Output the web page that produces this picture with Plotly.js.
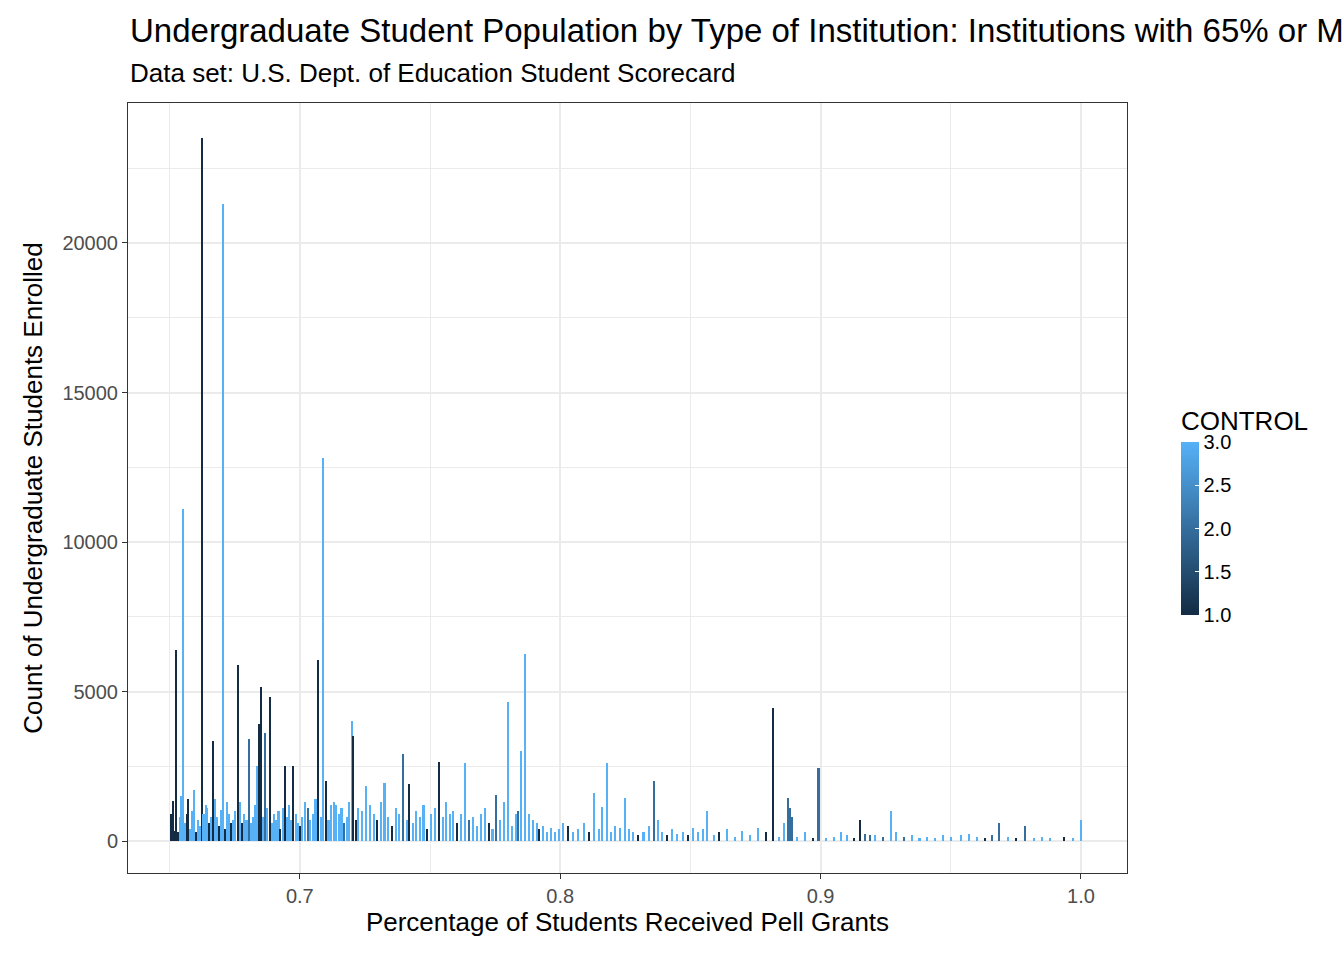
<!DOCTYPE html>
<html>
<head>
<meta charset="utf-8">
<script src="https://cdn.plot.ly/plotly-3.0.1.min.js"></script>
<style>body{margin:0;background:#fff}</style>
</head>
<body>
<div id="chart" style="width:1344px;height:960px"></div>
<script>
// Pell grant share, undergraduate enrolment, institution control (1 public, 2 private nonprofit, 3 private for-profit)
const pell = [
  0.6505,0.6512,0.6518,0.6524,0.6531,0.6538,0.6545,0.6551,0.6558,0.6565,0.6571,0.6578,0.6586,0.6593,0.6600,
  0.6608,0.6615,0.6624,0.6630,0.6638,0.6645,0.6652,0.6660,0.6668,0.6673,0.6680,0.6688,0.6697,0.6704,0.6712,
  0.6720,0.6728,0.6736,0.6745,0.6752,0.6762,0.6770,0.6778,0.6786,0.6795,0.6804,0.6812,0.6820,0.6828,0.6835,
  0.6843,0.6850,0.6858,0.6866,0.6874,0.6885,0.6893,0.6902,0.6910,0.6918,0.6925,0.6934,0.6942,0.6950,0.6958,
  0.6966,0.6975,0.6984,0.6992,0.7000,0.7010,0.7020,0.7030,0.7040,0.7050,0.7060,0.7069,0.7080,0.7088,0.7100,
  0.7110,0.7120,0.7130,0.7140,0.7150,0.7160,0.7170,0.7180,0.7190,0.7200,0.7205,0.7215,0.7225,0.7240,0.7255,
  0.7270,0.7285,0.7295,0.7310,0.7325,0.7340,0.7355,0.7370,0.7380,0.7395,0.7410,0.7420,0.7435,0.7445,0.7460,
  0.7475,0.7490,0.7505,0.7520,0.7535,0.7550,0.7560,0.7575,0.7590,0.7605,0.7620,0.7635,0.7650,0.7665,0.7680,
  0.7695,0.7710,0.7725,0.7740,0.7755,0.7770,0.7785,0.7800,0.7815,0.7830,0.7838,0.7850,0.7865,0.7880,0.7895,
  0.7912,0.7920,0.7935,0.7950,0.7965,0.7980,0.7995,0.8010,0.8030,0.8050,0.8070,0.8090,0.8110,0.8130,0.8150,
  0.8160,0.8180,0.8195,0.8210,0.8230,0.8250,0.8265,0.8280,0.8300,0.8320,0.8340,0.8360,0.8375,0.8390,0.8410,
  0.8430,0.8450,0.8470,0.8490,0.8510,0.8530,0.8550,0.8565,0.8590,0.8610,0.8640,0.8670,0.8700,0.8730,0.8760,
  0.8790,0.8816,0.8840,0.8860,0.8874,0.8882,0.8890,0.8910,0.8940,0.8970,0.8992,0.9020,0.9050,0.9080,0.9100,
  0.9130,0.9150,0.9170,0.9190,0.9210,0.9240,0.9270,0.9290,0.9320,0.9350,0.9380,0.9410,0.9440,0.9470,0.9500,
  0.9540,0.9570,0.9600,0.9630,0.9660,0.9685,0.9720,0.9750,0.9785,0.9820,0.9850,0.9880,0.9935,0.9970,1.0000
];
const ugds = [
  900,1350,350,6400,300,800,1500,11100,600,900,1400,400,1000,1700,300,
  700,500,23500,900,1200,1100,600,800,3350,1400,800,500,1050,21300,400,
  1300,900,600,700,1000,5900,1300,600,900,700,3400,600,800,1200,2500,
  3900,5150,800,3600,1100,4800,600,900,700,1000,400,1100,2500,800,1200,
  700,2500,900,600,500,800,1300,1100,700,900,1400,6050,800,12800,2000,
  700,1200,1300,1200,900,1100,600,800,1300,4000,3500,700,1100,1000,1850,
  1200,900,700,1300,1950,800,500,1100,900,2900,700,1900,600,1000,800,
  1200,400,900,1100,2650,800,1300,900,1000,600,900,2600,700,800,500,
  900,1100,600,400,1550,700,1300,4650,500,900,1000,3000,6250,900,700,
  600,400,500,300,450,300,400,600,500,300,400,600,300,1600,400,
  1150,2600,300,500,450,1450,400,300,200,300,500,2000,700,300,200,
  400,250,300,200,450,300,400,1000,200,300,400,150,350,200,450,
  300,4450,150,600,1450,1100,800,150,300,100,2450,100,150,300,200,
  100,700,250,200,200,150,1000,300,150,200,100,150,100,200,150,
  200,250,150,100,200,600,150,100,500,100,150,100,150,100,700
];
const control = [
  1,1,1,1,1,3,3,3,3,1,1,3,3,3,1,
  3,3,1,3,3,3,1,3,1,3,3,1,3,3,1,
  3,3,1,3,3,1,3,1,3,3,2,3,3,3,3,
  1,1,3,2,3,1,3,3,3,3,1,3,1,3,3,
  3,1,3,3,1,3,3,2,3,3,3,1,3,3,1,
  3,3,3,3,3,3,2,3,3,3,1,1,3,3,3,
  3,3,1,3,3,3,1,3,3,2,3,1,3,3,3,
  3,1,3,3,1,3,3,3,3,1,3,3,2,3,3,
  3,3,1,3,2,3,3,3,3,3,2,3,3,3,3,
  3,1,3,3,3,3,3,3,1,3,3,3,1,3,3,
  3,3,3,3,3,3,3,3,1,3,3,2,3,3,1,
  3,3,3,1,3,3,3,3,3,1,3,3,3,3,3,
  1,1,3,3,2,2,2,3,3,1,2,3,3,3,3,
  1,1,2,2,3,2,3,3,2,3,3,3,3,3,3,
  3,3,3,1,2,2,3,1,2,3,3,3,1,3,3
];
const xTicks = [0.7, 0.8, 0.9, 1.0];
const xTickText = ['0.7', '0.8', '0.9', '1.0'];
const yTicks = [0, 5000, 10000, 15000, 20000];
const yTickText = ['0', '5000', '10000', '15000', '20000'];
const cbTicks = [1.0, 1.5, 2.0, 2.5, 3.0];

const trace = {
  type: 'bar',
  x: pell,
  y: ugds,
  width: 0.0008,
  marker: {
    color: control,
    cmin: 1, cmax: 3,
    colorscale: [[0, '#132B43'], [1, '#56B1F7']],
    line: {width: 0},
    showscale: true,
    colorbar: {
      title: {text: 'CONTROL', font: {size: 26, color: '#000'}, side: 'top'},
      x: 1.044, xanchor: 'left',
      y: 0.47, yanchor: 'middle',
      len: 228, lenmode: 'pixels',
      thickness: 18,
      outlinewidth: 0,
      tickvals: cbTicks,
      tickformat: '.1f',
      ticks: 'inside', ticklen: 4, tickcolor: '#fff',
      tickfont: {size: 20, color: '#000'}
    }
  },
  hoverinfo: 'x+y'
};

const gridC = '#EBEBEB';
const layout = {
  width: 1344, height: 960,
  margin: {l: 128, r: 217, t: 103, b: 87},
  paper_bgcolor: '#fff', plot_bgcolor: '#fff',
  font: {family: 'Liberation Sans, Arial, sans-serif'},
  barmode: 'overlay',
  bargap: 0,
  showlegend: false,
  xaxis: {
    range: [0.634, 1.0177],
    tickvals: xTicks, ticktext: xTickText,
    ticks: 'outside', ticklen: 5, tickcolor: '#333',
    tickfont: {size: 20, color: '#4D4D4D'},
    showgrid: true, gridcolor: gridC, gridwidth: 1.6,
    minor: {tickvals: [0.65, 0.75, 0.85, 0.95], showgrid: true, gridcolor: gridC, gridwidth: 0.8},
    zeroline: false,
    showline: true, mirror: true, linecolor: '#333', linewidth: 1,
    title: {text: 'Percentage of Students Received Pell Grants', font: {size: 26, color: '#000'}, standoff: 6}
  },
  yaxis: {
    range: [-1070, 24682],
    tickvals: yTicks, ticktext: yTickText,
    ticks: 'outside', ticklen: 5, tickcolor: '#333',
    tickfont: {size: 20, color: '#4D4D4D'},
    showgrid: true, gridcolor: gridC, gridwidth: 1.6,
    minor: {tickvals: [2500, 7500, 12500, 17500, 22500], showgrid: true, gridcolor: gridC, gridwidth: 0.8},
    zeroline: false,
    showline: true, mirror: true, linecolor: '#333', linewidth: 1,
    title: {text: 'Count of Undergraduate Students Enrolled', font: {size: 26, color: '#000'}, standoff: 12}
  },
  annotations: [
    {text: 'Undergraduate Student Population by Type of Institution: Institutions with 65% or More Pell Grant Recipients',
     xref: 'paper', yref: 'paper', x: 0, y: 1.0948, xanchor: 'left', yanchor: 'middle',
     showarrow: false, font: {size: 33, color: '#000'}},
    {text: 'Data set: U.S. Dept. of Education Student Scorecard',
     xref: 'paper', yref: 'paper', x: 0, y: 1.039, xanchor: 'left', yanchor: 'middle',
     showarrow: false, font: {size: 26, color: '#000'}}
  ]
};

Plotly.newPlot('chart', [trace], layout, {displayModeBar: false});
</script>
</body>
</html>
